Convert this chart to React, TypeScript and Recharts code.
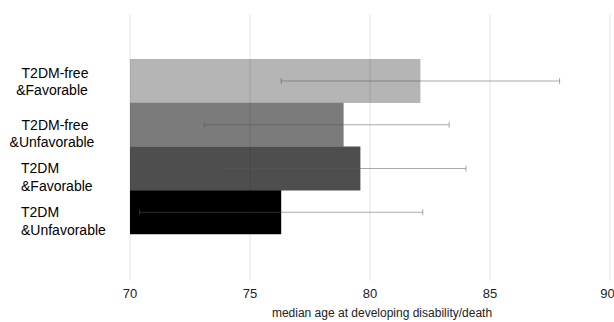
import { BarChart, Bar, XAxis, YAxis, ErrorBar, Cell, ReferenceLine } from "recharts"

const categories = [
  ["T2DM-free", "&Favorable"],
  ["T2DM-free", "&Unfavorable"],
  ["T2DM", "&Favorable"],
  ["T2DM", "&Unfavorable"],
]
const medians = [82.1, 78.9, 79.6, 76.3]
const lower = [76.3, 73.1, 73.8, 70.4]
const upper = [87.9, 83.3, 84.0, 82.2]
const xTicks = [70, 75, 80, 85, 90]
const barColors = ["#b5b5b5", "#7b7b7b", "#4e4e4e", "#000000"]

const data = categories.map((c, i) => ({
  name: c.join(" "),
  median: medians[i],
  err: [medians[i] - lower[i], upper[i] - medians[i]],
}))

const font = "Liberation Sans, Arial, sans-serif"

function CategoryTick(props: any) {
  const { y, payload, index } = props
  const lines = categories[index] ?? [payload.value]
  const centered = index < 2
  const x = centered ? 55 : 21
  const top = index === 0 ? y - 8 : y
  return (
    <text
      x={x}
      y={top}
      fill="#000"
      fontSize={14}
      fontFamily={font}
      textAnchor={centered ? "middle" : "start"}
    >
      {lines.map((l: string, k: number) => (
        <tspan key={k} x={x + (centered && k === 1 ? -3 : 0)} y={top + k * 17.5} dominantBaseline="central">
          {l}
        </tspan>
      ))}
    </text>
  )
}

export default function App() {
  return (
    <div style={{ position: "absolute", left: 0, top: 0, background: "#fff" }}>
      <BarChart
        width={614}
        height={322}
        data={data}
        layout="vertical"
        barCategoryGap={0}
        margin={{ top: 14, right: 4, left: 0, bottom: 0 }}
      >
        <XAxis
          type="number"
          domain={[70, 90]}
          ticks={xTicks}
          axisLine={false}
          tickLine={false}
          height={41}
          tick={{ fill: "#222", fontSize: 13, fontFamily: font }}
          label={{
            value: "median age at developing disability/death",
            position: "insideBottom",
            offset: 5,
            dx: 12,
            fill: "#222",
            fontSize: 12,
            fontFamily: font,
          }}
        />
        <YAxis
          type="category"
          dataKey="name"
          width={130}
          axisLine={false}
          tickLine={false}
          padding={{ top: 45, bottom: 47 }}
          tick={<CategoryTick />}
          interval={0}
        />
        <Bar dataKey="median" isAnimationActive={false}>
          {data.map((_, i) => (
            <Cell key={i} fill={barColors[i]} />
          ))}
          <ErrorBar dataKey="err" direction="x" width={3} stroke="#555" strokeOpacity={0.5} strokeWidth={1} />
        </Bar>
        {xTicks.map((t) => (
          <ReferenceLine key={t} x={t} stroke="#000" strokeOpacity={0.1} />
        ))}
      </BarChart>
    </div>
  )
}
